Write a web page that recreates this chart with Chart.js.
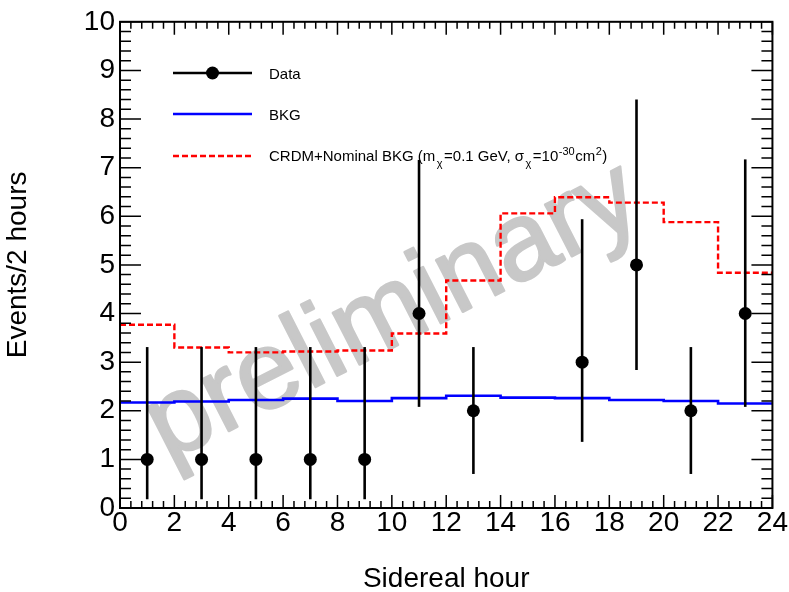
<!DOCTYPE html>
<html><head><meta charset="utf-8">
<script src="https://cdn.jsdelivr.net/npm/chart.js@4"></script>
<style>html,body{margin:0;padding:0;background:#fff}#wrap{width:789px;height:592px}</style>
</head><body><div id="wrap"><canvas id="c" width="789" height="592"></canvas></div>
<script>
const FONT = "'Liberation Sans', Arial, Helvetica, sans-serif";

// ---- data ----
const binEdges   = [0,2,4,6,8,10,12,14,16,18,20,22,24];
const hours      = [1,3,5,7,9,11,13,15,17,19,21,23];
const dataCounts = [1,1,1,1,1,4,2,null,3,5,2,4];
const errLow     = [0.18,0.18,0.18,0.18,0.18,2.08,0.70,null,1.36,2.84,0.70,2.08];
const errHigh    = [3.31,3.31,3.31,3.31,3.31,7.16,3.31,null,5.94,8.40,3.31,7.17];
const bkgValues  = [2.17,2.19,2.22,2.25,2.20,2.26,2.31,2.27,2.26,2.22,2.20,2.15];
const crdmValues = [3.77,3.30,3.20,3.22,3.24,3.59,4.68,6.06,6.39,6.28,5.88,4.84];
const xTicks     = [0,2,4,6,8,10,12,14,16,18,20,22,24];
const yTicks     = [0,1,2,3,4,5,6,7,8,9,10];

function stepPoints(vals){
  const pts = vals.map((v,i)=>({x:binEdges[i], y:v}));
  pts.push({x:binEdges[binEdges.length-1], y:vals[vals.length-1]});
  return pts;
}
const dataPoints = hours.map((h,i)=>({x:h, y:dataCounts[i]})).filter(p=>p.y!==null);

const framePlugin = {
  id:'frame',
  beforeDatasetsDraw(chart){
    const ctx = chart.ctx, a = chart.chartArea;
    ctx.save();
    const cx = a.left + (a.right-a.left)*0.440;
    const cy = a.top + (a.bottom-a.top)*0.655;
    ctx.translate(cx, cy);
    ctx.rotate(-27*Math.PI/180);
    ctx.font = `110px ${FONT}`;
    ctx.fillStyle = '#c8c8c8';
    ctx.strokeStyle = '#c8c8c8';
    ctx.lineWidth = 2.5;
    ctx.lineJoin = 'round';
    ctx.textAlign = 'center';
    ctx.textBaseline = 'alphabetic';
    ctx.fillText('preliminary', 0, 0);
    ctx.strokeText('preliminary', 0, 0);
    ctx.restore();
  },
  afterDatasetsDraw(chart){
    const ctx = chart.ctx, xs = chart.scales.x, ys = chart.scales.y;
    ctx.save();
    ctx.strokeStyle = '#000'; ctx.lineWidth = 2.6;
    hours.forEach((h,i)=>{
      if (dataCounts[i]===null) return;
      const px = xs.getPixelForValue(h);
      ctx.beginPath();
      ctx.moveTo(px, ys.getPixelForValue(errLow[i]));
      ctx.lineTo(px, ys.getPixelForValue(errHigh[i]));
      ctx.stroke();
    });
    ctx.restore();
  },
  afterDraw(chart){
    const ctx = chart.ctx, a = chart.chartArea, xs = chart.scales.x, ys = chart.scales.y;
    ctx.save();
    ctx.strokeStyle = '#000';
    ctx.lineWidth = 1.5;
    const xStep = (xTicks[1]-xTicks[0])/5;
    const nX = Math.round((xTicks[xTicks.length-1]-xTicks[0])/xStep);
    for (let k=0;k<=nX;k++){
      const v = xTicks[0]+k*xStep;
      const px = xs.getPixelForValue(v);
      const len = (k%5===0)?13:7;
      ctx.beginPath();
      ctx.moveTo(px,a.bottom); ctx.lineTo(px,a.bottom-len);
      ctx.moveTo(px,a.top); ctx.lineTo(px,a.top+len);
      ctx.stroke();
    }
    const yStep = (yTicks[1]-yTicks[0])/5;
    const nY = Math.round((yTicks[yTicks.length-1]-yTicks[0])/yStep);
    for (let k=0;k<=nY;k++){
      const v = yTicks[0]+k*yStep;
      const py = ys.getPixelForValue(v);
      const len = (k%5===0)?21:11;
      ctx.beginPath();
      ctx.moveTo(a.left,py); ctx.lineTo(a.left+len,py);
      ctx.moveTo(a.right,py); ctx.lineTo(a.right-len,py);
      ctx.stroke();
    }
    ctx.lineWidth = 2;
    ctx.strokeRect(a.left, a.top, a.right-a.left, a.bottom-a.top);

    // legend
    const lx0 = 173, lx1 = 252, tx = 269;
    const rows = [73, 114, 156];
    ctx.lineWidth = 2.6; ctx.strokeStyle = '#000'; ctx.setLineDash([]);
    ctx.beginPath(); ctx.moveTo(lx0,rows[0]); ctx.lineTo(lx1,rows[0]); ctx.stroke();
    ctx.fillStyle = '#000';
    ctx.beginPath(); ctx.arc((lx0+lx1)/2, rows[0], 6.5, 0, Math.PI*2); ctx.fill();
    ctx.strokeStyle = '#0000ff'; ctx.lineWidth = 2.6;
    ctx.beginPath(); ctx.moveTo(lx0,rows[1]); ctx.lineTo(lx1,rows[1]); ctx.stroke();
    ctx.strokeStyle = '#ff0000'; ctx.lineWidth = 2.4; ctx.setLineDash([6,3]);
    ctx.beginPath(); ctx.moveTo(lx0,rows[2]); ctx.lineTo(lx1,rows[2]); ctx.stroke();
    ctx.setLineDash([]);

    ctx.fillStyle = '#000';
    ctx.textAlign = 'left'; ctx.textBaseline = 'alphabetic';
    ctx.font = `15px ${FONT}`;
    ctx.fillText('Data', tx, rows[0]+6);
    ctx.fillText('BKG', tx, rows[1]+6);
    const segs = [
      {t:'CRDM+Nominal BKG (m'},
      {t:'\u03C7', s:'sub'},
      {t:'=0.1 GeV, \u03C3'},
      {t:'\u03C7', s:'sub'},
      {t:'=10'},
      {t:'-30', s:'sup'},
      {t:'cm'},
      {t:'2', s:'sup'},
      {t:')'}
    ];
    let x = tx; const base = rows[2]+5;
    segs.forEach(sg=>{
      if (sg.s){
        ctx.font = `11px ${FONT}`;
        const dy = sg.s==='sub' ? 6 : -6;
        const pad = sg.s==='sub' ? 1.5 : 0.5;
        ctx.fillText(sg.t, x+pad, base+dy);
        x += ctx.measureText(sg.t).width + pad*2;
      } else {
        ctx.font = `15px ${FONT}`;
        ctx.fillText(sg.t, x, base);
        x += ctx.measureText(sg.t).width;
      }
    });
    ctx.restore();
  }
};

new Chart(document.getElementById('c'), {
  type: 'scatter',
  data: {
    datasets: [
      {
        label:'Data', data: dataPoints, showLine:false,
        pointRadius:6.5, pointHoverRadius:6.5, pointBackgroundColor:'#000', pointBorderWidth:0, borderColor:'#000'
      },
      {
        type:'line', label:'BKG', data: stepPoints(bkgValues), showLine:true, stepped:true,
        borderColor:'#0000ff', borderWidth:2.6, pointRadius:0, fill:false
      },
      {
        type:'line', label:'CRDM+Nominal BKG', data: stepPoints(crdmValues), showLine:true, stepped:true,
        borderColor:'#ff0000', borderWidth:2.4, borderDash:[6,3], pointRadius:0, fill:false
      }
    ]
  },
  options: {
    responsive:false, animation:false, devicePixelRatio:1,
    layout:{padding:{top:21, right:16, bottom:0, left:0}},
    plugins:{legend:{display:false}, tooltip:{enabled:false}},
    scales:{
      x:{
        type:'linear', min:xTicks[0], max:xTicks[xTicks.length-1],
        afterBuildTicks(s){ s.ticks = xTicks.map(v=>({value:v})); },
        afterFit(s){ s.height = 84; },
        grid:{display:false, drawTicks:false}, border:{display:false},
        ticks:{autoSkip:false, maxRotation:0, color:'#000', padding:1, font:{family:FONT, size:28, lineHeight:1}},
        title:{display:true, text:'Sidereal hour', color:'#000', font:{family:FONT, size:28}, padding:{top:0,bottom:-4}}
      },
      y:{
        type:'linear', min:yTicks[0], max:yTicks[yTicks.length-1],
        afterBuildTicks(s){ s.ticks = yTicks.map(v=>({value:v})); },
        afterFit(s){ s.width = 120; },
        grid:{display:false, drawTicks:false}, border:{display:false},
        ticks:{autoSkip:false, color:'#000', padding:5, font:{family:FONT, size:28}},
        title:{display:true, text:'Events/2 hours', color:'#000', font:{family:FONT, size:28}, padding:{top:1,bottom:0}}
      }
    }
  },
  plugins:[framePlugin]
});
</script>
</body></html>
